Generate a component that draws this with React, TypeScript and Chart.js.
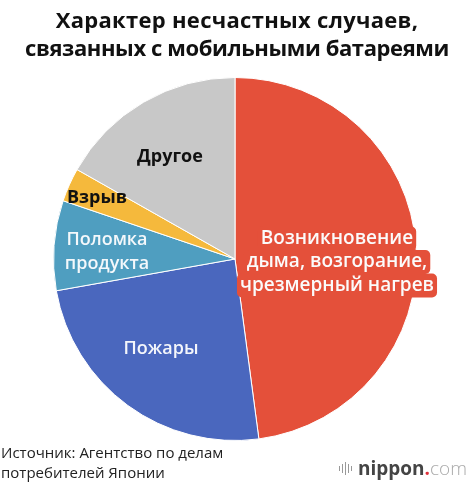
import { useEffect, useRef } from "react";
import { Chart, registerables } from "chart.js";

Chart.register(...registerables);

const categories = [
  "Возникновение дыма, возгорание, чрезмерный нагрев",
  "Пожары",
  "Поломка продукта",
  "Взрыв",
  "Другое",
];
const shares = [47.9, 24.3, 8.0, 3.0, 16.8];
const sliceColors = ["#e4503a", "#4a67be", "#4f9ec0", "#f5b93c", "#c8c8c8"];

// how each slice label is broken into lines and placed (offset of the block centre from pie centre)
const labelLines = [
  ["Возникновение", "дыма, возгорание,", "чрезмерный нагрев"],
  ["Пожары"],
  ["Поломка", "продукта"],
  ["Взрыв"],
  ["Другое"],
];
const labelOffsets = [
  [102, 3],
  [-74, 90],
  [-128, -7],
  [-138, -61],
  [-65, -102],
];
const labelColors = ["#fbfbfb", "#f4f6fb", "#f4f8fb", "#111111", "#111111"];
const labelFonts = [
  "600 19px 'Open Sans'",
  "600 18px 'Open Sans'",
  "600 18px 'Open Sans'",
  "700 18px 'Open Sans'",
  "700 18px 'Open Sans'",
];

const sliceLabels = {
  id: "sliceLabels",
  afterDatasetsDraw(chart: Chart) {
    const ctx = chart.ctx;
    const arcs = chart.getDatasetMeta(0).data as any[];
    if (!arcs.length) return;
    const cx = arcs[0].x;
    const cy = arcs[0].y;
    ctx.save();
    ctx.textAlign = "center";
    ctx.textBaseline = "middle";
    const lh = 23.5;
    labelLines.forEach((lines, i) => {
      ctx.font = labelFonts[i];
      const [ox, oy] = labelOffsets[i];
      const y0 = cy + oy - ((lines.length - 1) * lh) / 2;
      if (i === 0) {
        // box behind the big label, so it reads past the pie edge
        ctx.fillStyle = sliceColors[0];
        lines.forEach((t, k) => {
          const w = ctx.measureText(t).width + 6;
          ctx.beginPath();
          ctx.roundRect(cx + ox - w / 2, y0 + k * lh - 12, w, 24, 5);
          ctx.fill();
        });
      }
      ctx.fillStyle = labelColors[i];
      lines.forEach((t, k) => ctx.fillText(t, cx + ox, y0 + k * lh));
    });
    ctx.restore();
  },
};

export default function App() {
  const chartRef = useRef<HTMLCanvasElement>(null);

  useEffect(() => {
    if (!chartRef.current) return;
    const chart = new Chart(chartRef.current, {
      type: "pie",
      data: {
        labels: categories,
        datasets: [
          {
            data: shares,
            backgroundColor: sliceColors,
            borderColor: "#ffffff",
            borderWidth: 1,
          },
        ],
      },
      options: {
        animation: false,
        responsive: false,
        layout: { padding: { top: 77, bottom: 44, left: 0, right: 4 } },
        plugins: {
          legend: { display: false },
          tooltip: { enabled: false },
        },
      },
      plugins: [sliceLabels],
    });
    return () => chart.destroy();
  }, []);

  return (
    <div
      style={{
        position: "fixed",
        left: 0,
        top: 0,
        width: 474,
        height: 485,
        background: "#fff",
        fontFamily: "'Open Sans', sans-serif",
        overflow: "hidden",
      }}
    >
      <canvas ref={chartRef} width={474} height={485} style={{ position: "absolute", left: 0, top: 0 }} />
      <div
        style={{
          position: "absolute",
          left: 0,
          top: 5,
          width: 474,
          textAlign: "center",
          fontWeight: 700,
          fontSize: 22,
          lineHeight: "28px",
          color: "#111",
        }}
      >
        <span style={{ letterSpacing: 0.3 }}>Характер несчастных случаев,</span>
        <br />
        <span style={{ letterSpacing: -0.4 }}>связанных с мобильными батареями</span>
      </div>
      <div
        style={{
          position: "absolute",
          left: 1,
          top: 442,
          fontSize: 15,
          lineHeight: "20px",
          color: "#222",
        }}
      >
        Источник: Агентство по делам
        <br />
        потребителей Японии
      </div>
      <div
        style={{
          position: "absolute",
          left: 339,
          top: 455,
          fontSize: 19,
          lineHeight: "26px",
          color: "#444",
          display: "flex",
          alignItems: "center",
        }}
      >
        <span style={{ display: "inline-flex", alignItems: "center", gap: 2, marginRight: 6 }}>
          {[5, 9, 13, 9, 5].map((h, i) => (
            <span key={i} style={{ width: 1, height: h, background: "#999", display: "inline-block" }} />
          ))}
        </span>
        <span style={{ fontWeight: 700 }}>nippon</span>
        <span style={{ color: "#e0303a", fontWeight: 700 }}>.</span>
        <span style={{ color: "#aaa", fontWeight: 300 }}>com</span>
      </div>
    </div>
  );
}
